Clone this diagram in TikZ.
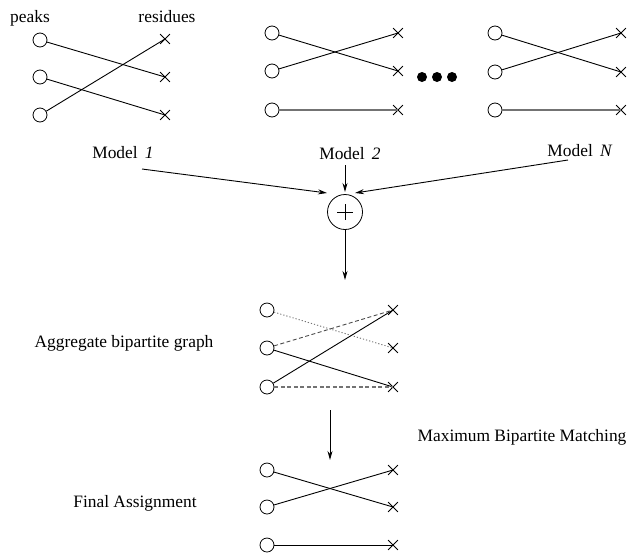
\documentclass[tikz,border=0pt]{standalone}
\usepackage{fontspec}
\setmainfont{Liberation Serif}
\usetikzlibrary{shapes.misc,arrows.meta,calc}
\begin{document}
\begin{tikzpicture}[x=1pt,y=-1pt,
 pk/.style={circle,draw,minimum size=14pt,inner sep=0pt,line width=0.8pt},
 rs/.style={cross out,draw,minimum size=9pt,inner sep=0pt,line width=0.8pt},
 ed/.style={line width=0.9pt},
 ged/.style={line width=1.1pt,draw=black!55},
 dsh/.style={line width=0.9pt,draw=black!70,dash pattern=on 4pt off 2.5pt},
 gdsh/.style={line width=1.1pt,draw=black!55,dash pattern=on 4pt off 2.5pt},
 dtt/.style={line width=0.9pt,draw=black!55,dash pattern=on 1.2pt off 2pt},
 lbl/.style={font=\fontsize{17.4}{20}\selectfont,inner sep=0pt,anchor=base},
 arr/.style={line width=0.9pt,-{Stealth[length=9pt,width=5pt]}},
 dotn/.style={circle,fill,minimum size=10pt,inner sep=0pt}]
\useasboundingbox (0,0) rectangle (628,552);

% ---------- Graph 1 ----------
\node[lbl] (peaks) at (30,22) {peaks};
\node[lbl] (resid) at (167,22) {residues};
\node[pk] (a1) at (40,40) {};
\node[pk] (a2) at (40,77) {};
\node[pk] (a3) at (40,115) {};
\node[rs] (b1) at (165,39) {};
\node[rs] (b2) at (165,77) {};
\node[rs] (b3) at (165,115) {};
\draw[ed] (a1) -- (b2.center);
\draw[ed] (a2) -- (b3.center);
\draw[ed] (a3) -- (b1.center);

% ---------- Graph 2 ----------
\node[pk] (c1) at (272,33) {};
\node[pk] (c2) at (272,71) {};
\node[pk] (c3) at (272,110) {};
\node[rs] (d1) at (398,33) {};
\node[rs] (d2) at (398,71) {};
\node[rs] (d3) at (398,110) {};
\draw[ed] (c1) -- (d2.center);
\draw[ed] (c2) -- (d1.center);
\draw[ged] (c3) -- (d3.center);

% dots
\node[dotn] (o1) at (422,77) {};
\node[dotn] (o2) at (437,77) {};
\node[dotn] (o3) at (452,77) {};

% ---------- Graph N ----------
\node[pk] (e1) at (495,33) {};
\node[pk] (e2) at (495,72) {};
\node[pk] (e3) at (495,110) {};
\node[rs] (f1) at (621,33) {};
\node[rs] (f2) at (621,72) {};
\node[rs] (f3) at (621,110) {};
\draw[ed] (e1) -- (f2.center);
\draw[ed] (e2) -- (f1.center);
\draw[ged] (e3) -- (f3.center);

% ---------- Models and sum ----------
\node[lbl] (m1) at (123,158) {Model\, \textit{1}};
\node[lbl] (m2) at (350,159) {Model\, \textit{2}};
\node[lbl] (mn) at (580,156) {Model\, \textit{N}};
\node[circle,draw,minimum size=35pt,inner sep=0pt,line width=0.8pt] (plus) at (345,212) {};
\draw[line width=0.8pt] ($(plus.center)+(-8,0)$) -- ($(plus.center)+(8,0)$)
                        ($(plus.center)+(0,-8)$) -- ($(plus.center)+(0,8)$);
\coordinate (s1) at (142,169);
\coordinate (s2) at (345,165);
\coordinate (sn) at (568,160);
\coordinate (t1) at ($(plus.center)+(-18,-19)$);
\coordinate (t2) at ($(plus.center)+(0,-20)$);
\coordinate (tn) at ($(plus.center)+(10,-19)$);
\draw[arr] (s1) -- (t1);
\draw[arr] (s2) -- (t2);
\draw[arr] (sn) -- (tn);
\coordinate (g1) at (345,280);
\draw[arr] (plus) -- (g1);

% ---------- Aggregate graph ----------
\node[lbl] (agg) at (124,347) {Aggregate bipartite graph};
\node[pk] (h1) at (267,310) {};
\node[pk] (h2) at (267,348) {};
\node[pk] (h3) at (267,387) {};
\node[rs] (k1) at (393,310) {};
\node[rs] (k2) at (393,348) {};
\node[rs] (k3) at (393,387) {};
\draw[dtt] (h1) -- (k2.center);
\draw[dsh] (h2) -- (k1.center);
\draw[ed] (h2) -- (k3.center);
\draw[ed] (h3) -- (k1.center);
\draw[gdsh] (h3) -- (k3.center);

% ---------- Matching ----------
\node[lbl] (mbm) at (522,441) {Maximum Bipartite Matching};
\coordinate (u1) at (330,410);
\coordinate (u2) at (330,460);
\draw[arr] (u1) -- (u2);

% ---------- Final graph ----------
\node[lbl] (fin) at (135,507) {Final Assignment};
\node[pk] (p1) at (267,470) {};
\node[pk] (p2) at (267,507) {};
\node[pk] (p3) at (267,545) {};
\node[rs] (q1) at (393,470) {};
\node[rs] (q2) at (393,507) {};
\node[rs] (q3) at (393,545) {};
\draw[ed] (p1) -- (q2.center);
\draw[ed] (p2) -- (q1.center);
\draw[ed] (p3) -- (q3.center);
\end{tikzpicture}
\end{document}
